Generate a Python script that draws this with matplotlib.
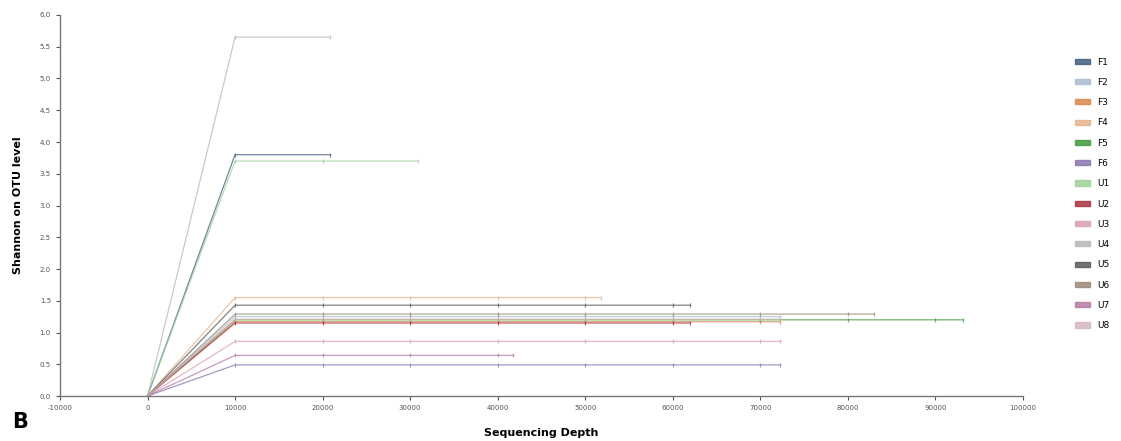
import matplotlib
matplotlib.use("Agg")
import matplotlib.pyplot as plt
from matplotlib.patches import Patch

samples = ["F1", "F2", "F3", "F4", "F5", "F6", "U1", "U2", "U3", "U4", "U5", "U6", "U7", "U8"]
colors = ["#3f5f7f", "#a9bccf", "#d9874a", "#e8b48c", "#3f9a3f", "#8a76b0", "#9fd09a", "#a8323f",
          "#d9a0b4", "#b8b8b8", "#5a5a5a", "#9a8a78", "#b57aa8", "#d8b6c0"]

depth_F1 = [0, 10000, 20900]
shan_F1 = [0, 3.80, 3.80]
depth_F2 = [0, 10000, 20000, 30000, 40000, 50000, 60000, 70000, 72300]
shan_F2 = [0, 1.25, 1.25, 1.25, 1.25, 1.25, 1.25, 1.25, 1.25]
depth_F3 = [0, 10000, 20000, 30000, 40000, 50000, 60000, 70000, 72300]
shan_F3 = [0, 1.17, 1.17, 1.17, 1.17, 1.17, 1.17, 1.17, 1.17]
depth_F4 = [0, 10000, 20000, 30000, 40000, 50000, 51800]
shan_F4 = [0, 1.55, 1.55, 1.55, 1.55, 1.55, 1.55]
depth_F5 = [0, 10000, 20000, 30000, 40000, 50000, 60000, 70000, 80000, 90000, 93100]
shan_F5 = [0, 1.20, 1.20, 1.20, 1.20, 1.20, 1.20, 1.20, 1.20, 1.20, 1.20]
depth_F6 = [0, 10000, 20000, 30000, 40000, 50000, 60000, 70000, 72300]
shan_F6 = [0, 0.49, 0.49, 0.49, 0.49, 0.49, 0.49, 0.49, 0.49]
depth_U1 = [0, 10000, 20000, 30900]
shan_U1 = [0, 3.70, 3.70, 3.70]
depth_U2 = [0, 10000, 20000, 30000, 40000, 50000, 60000, 62000]
shan_U2 = [0, 1.15, 1.15, 1.15, 1.15, 1.15, 1.15, 1.15]
depth_U3 = [0, 10000, 20000, 30000, 40000, 50000, 60000, 70000, 72300]
shan_U3 = [0, 0.86, 0.86, 0.86, 0.86, 0.86, 0.86, 0.86, 0.86]
depth_U4 = [0, 10000, 20900]
shan_U4 = [0, 5.65, 5.65]
depth_U5 = [0, 10000, 20000, 30000, 40000, 50000, 60000, 62000]
shan_U5 = [0, 1.43, 1.43, 1.43, 1.43, 1.43, 1.43, 1.43]
depth_U6 = [0, 10000, 20000, 30000, 40000, 50000, 60000, 70000, 80000, 83000]
shan_U6 = [0, 1.29, 1.29, 1.29, 1.29, 1.29, 1.29, 1.29, 1.29, 1.29]
depth_U7 = [0, 10000, 20000, 30000, 40000, 41800]
shan_U7 = [0, 0.64, 0.64, 0.64, 0.64, 0.64]
depth_U8 = [0, 10000, 20000, 30000, 40000, 50000, 60000, 70000, 72300]
shan_U8 = [0, 1.21, 1.21, 1.21, 1.21, 1.21, 1.21, 1.21, 1.21]

depths = [depth_F1, depth_F2, depth_F3, depth_F4, depth_F5, depth_F6, depth_U1,
          depth_U2, depth_U3, depth_U4, depth_U5, depth_U6, depth_U7, depth_U8]
shannons = [shan_F1, shan_F2, shan_F3, shan_F4, shan_F5, shan_F6, shan_U1,
            shan_U2, shan_U3, shan_U4, shan_U5, shan_U6, shan_U7, shan_U8]

xticks = list(range(-10000, 100001, 10000))
yticks = [i * 0.5 for i in range(13)]

fig = plt.figure(figsize=(11.21, 4.41), dpi=100)
ax = fig.add_axes([0.0535, 0.102, 0.859, 0.864])

for name, c, d, s in zip(samples, colors, depths, shannons):
    ax.plot(d, s, color=c, lw=0.9, alpha=0.75, marker="|", ms=2.5, mew=0.9)

ax.set_xlim(-10000, 100000)
ax.set_ylim(0, 6.0)
ax.set_xticks(xticks)
ax.set_xticklabels([str(t) for t in xticks])
ax.set_yticks(yticks)
ax.set_yticklabels([f"{t:.1f}" for t in yticks])
ax.tick_params(labelsize=5, colors="#555555", length=3, width=0.8, direction="out")
for sp in ["top", "right"]:
    ax.spines[sp].set_visible(False)
for sp in ["left", "bottom"]:
    ax.spines[sp].set_color("#777777")
    ax.spines[sp].set_linewidth(1.0)

ax.set_xlabel("Sequencing Depth", fontsize=8, fontweight="bold", labelpad=12)
ax.set_ylabel("Shannon on OTU level", fontsize=8, fontweight="bold", labelpad=12)

handles = [Patch(facecolor=c, edgecolor=c, alpha=0.85) for c in colors]
fig.legend(handles, samples, loc="upper left", bbox_to_anchor=(0.952, 0.888),
           frameon=False, fontsize=6.5, handlelength=1.6, handleheight=0.5,
           labelspacing=1.25, handletextpad=0.8)

fig.text(0.011, 0.03, "B", fontsize=15, fontweight="bold")

fig.savefig("out.png", dpi=100)
